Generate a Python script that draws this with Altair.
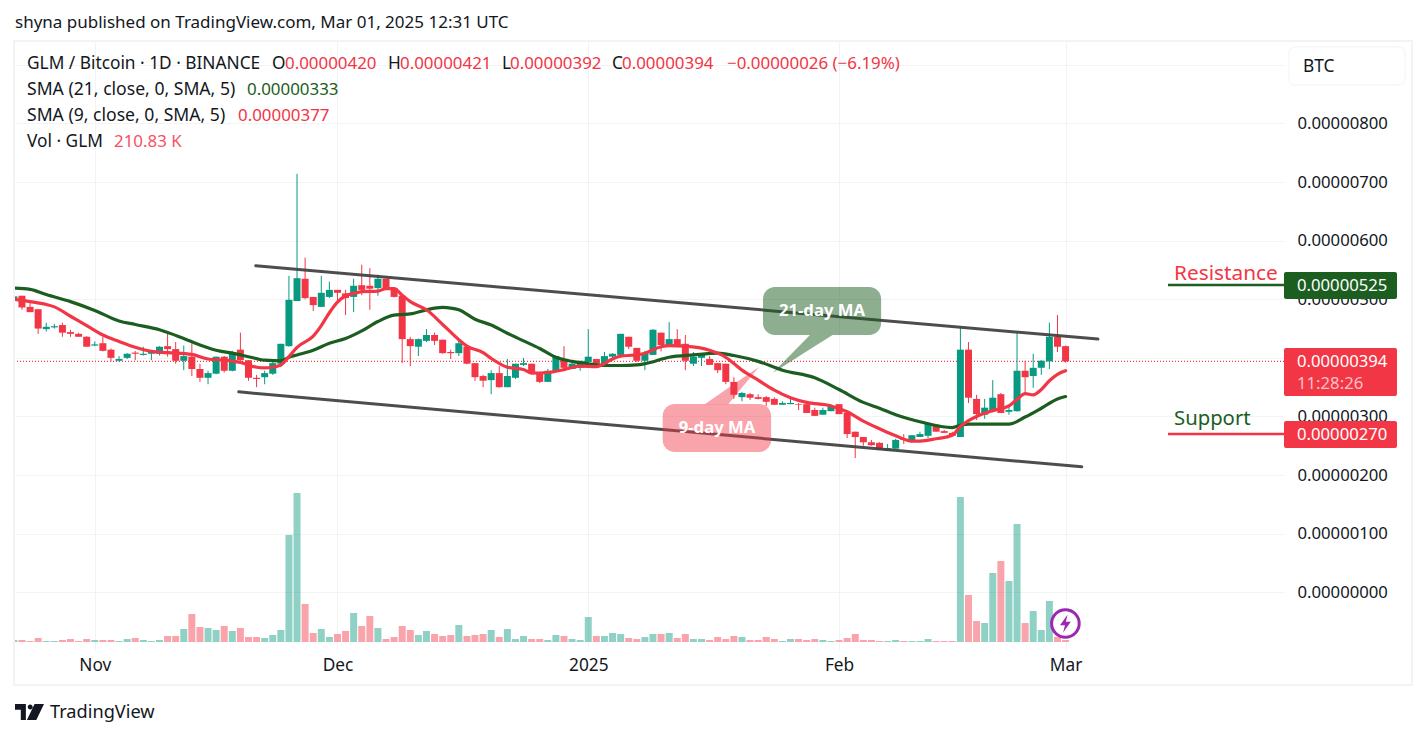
import altair as alt
import pandas as pd

# prices are in units of 0.00000001 BTC, volumes in thousands of GLM
START = "2024-10-22"
opens = [499,506,487,483,449,452,456,444,441,436,421,425,414,395,400,409,405,407,407,420,
 415,395,402,381,366,373,402,378,414,396,366,367,373,390,420,497,535,504,487,504,
 516,510,504,524,523,519,535,519,506,432,419,429,439,431,410,408,419,391,369,362,
 374,350,366,388,390,374,359,378,396,381,383,393,398,390,402,405,436,417,395,405,
 443,420,432,424,390,400,398,391,390,359,333,338,333,333,330,320,321,321,321,311,
 303,309,321,306,274,265,256,255,242,245,262,257,265,267,286,275,272,265,414,330,
 303,309,338,308,309,378,369,383,394,436,420]
highs = [505,506,496,483,460,458,460,448,443,437,428,436,416,403,408,412,419,411,420,443,
 427,421,425,390,378,402,403,412,443,396,371,378,395,424,540,714,571,504,540,530,
 516,516,535,559,553,542,535,519,506,436,433,449,443,431,414,431,420,391,371,379,
 386,398,390,400,390,376,381,403,420,395,395,449,398,410,408,441,436,417,412,449,
 443,461,449,439,410,407,403,391,390,367,342,340,338,335,333,326,332,323,321,315,
 315,321,321,308,274,265,260,256,253,262,270,268,274,289,287,277,274,454,427,337,
 330,362,340,320,443,395,407,396,460,473,421]
lows = [499,482,478,441,445,450,436,436,436,419,420,411,394,394,398,396,404,396,404,402,
 390,379,369,359,355,372,375,377,393,361,350,355,371,384,419,497,500,480,487,502,
 495,473,478,507,482,506,518,503,391,386,403,427,422,407,398,403,389,361,350,338,
 349,350,364,386,372,357,359,378,378,381,378,386,385,388,400,405,415,393,379,405,
 411,420,420,379,386,386,388,374,355,330,326,328,329,318,320,320,321,311,306,301,
 303,309,304,263,229,250,250,243,241,245,253,255,265,263,274,272,267,265,323,294,
 296,309,306,303,308,340,349,371,381,410,392]
closes = [505,486,478,450,453,454,443,441,436,419,423,412,400,398,407,407,407,411,419,415,
 395,403,381,366,374,402,378,410,396,366,364,374,391,424,499,536,502,490,511,516,
 511,502,523,516,518,535,519,504,432,420,432,439,429,408,408,425,390,367,361,374,
 350,369,390,391,373,359,378,403,383,390,395,402,390,403,407,441,419,395,408,448,
 422,432,422,395,402,405,388,379,359,337,340,332,330,325,320,323,323,320,306,301,
 311,318,304,270,265,256,251,243,246,260,260,268,270,287,274,272,267,414,332,304,
 315,332,306,311,378,367,383,395,436,419,394]
volumes = [210,210,105,420,105,105,210,315,105,315,210,210,210,105,315,420,210,105,210,630,
 630,1365,2940,1575,1470,1260,1680,1155,1470,525,525,420,735,1260,11235,15645,3990,945,1365,525,
 840,1155,3045,1680,2730,1470,315,525,1680,1260,735,1155,840,630,735,1785,630,735,840,1260,
 525,1365,315,630,315,315,210,735,630,315,210,2625,630,630,945,840,420,315,525,840,
 840,945,420,840,315,315,210,525,315,630,525,210,210,525,315,105,315,315,210,315,
 210,105,210,420,840,210,210,105,105,210,105,105,105,315,105,105,105,15225,4935,2205,
 1995,7245,8505,6405,12390,1995,3255,1260,4305,525,211]

sma21_days = [0,2,4,7,10,13,15,18,21,23,25,27,29,31,33,34,35,37,39,41,43,45,47,48,49,51,53,54,55,57,59,61,63,65,67,69,71,73,75,77,78,81,84,87,89,92,95,99,102,105,107,109,112,116,117,118,120,123,125,127,129,130]
sma21_vals = [519,517,508,496,481,463,457,448,433,422,413,408,402,396,395,401,405,413,425,433,446,462,473,474,475,482,486,485,482,466,456,442,429,416,401,394,390,387,387,388,390,401,405,408,404,394,379,366,346,324,314,303,291,281,285,287,287,287,299,314,330,334]
sma9_days = [0,2,4,5,7,9,11,13,15,17,19,22,24,26,28,30,31,32,33,34,35,37,38,39,40,41,42,43,45,46,47,48,49,51,53,55,56,58,59,61,63,64,66,68,70,72,74,75,77,78,80,81,83,86,88,90,92,94,96,98,101,103,105,107,109,111,112,114,116,117,118,119,121,123,124,125,126,127,128,129,130]
sma9_vals = [500,496,491,487,471,455,439,428,418,411,409,406,398,396,392,384,383,384,388,402,418,437,455,477,495,506,510,513,514,518,518,507,496,482,457,431,420,409,399,384,380,374,375,380,386,385,398,403,405,408,419,421,420,413,401,379,362,345,332,324,318,308,292,279,267,258,258,262,268,283,293,300,310,318,329,339,337,346,361,372,378]

upper_days, upper_vals = [29.9, 134], [557, 432]
lower_days, lower_vals = [27.8, 132], [342, 214]

x_ticks = ["2024-11-01", "2024-12-01", "2025-01-01", "2025-02-01", "2025-03-01"]
y_ticks = list(range(0, 1000, 100))

FONT = "Noto Sans"
INK = "#131722"
GREEN = "#089981"
RED = "#F23645"
DARK = "#1B5E20"
GRID = "#F2F3F5"
NUM = 16.9   # digits
TXT = 17.3   # letters

base = pd.Timestamp(START, tz="UTC")
def day(d):
    return (base + pd.Timedelta(days=d)).isoformat()
def ms(stamp):
    return int(pd.Timestamp(stamp, tz="UTC").value // 10**6)

candles = pd.DataFrame({"date": [day(i) for i in range(len(opens))],
                        "open": opens, "high": highs, "low": lows, "close": closes,
                        "volume": volumes})
candles["dir"] = ["up" if c >= o else "down" for o, c in zip(opens, closes)]
sma21 = pd.DataFrame({"date": [day(d) for d in sma21_days], "v": sma21_vals})
sma9 = pd.DataFrame({"date": [day(d) for d in sma9_days], "v": sma9_vals})
upper = pd.DataFrame({"date": [day(d) for d in upper_days], "v": upper_vals})
lower = pd.DataFrame({"date": [day(d) for d in lower_days], "v": lower_vals})

xscale = alt.Scale(type="utc", domain=[ms("2024-10-22T03:20:00"), ms("2025-03-28")], padding=0)
yscale = alt.Scale(domain=[-98.5, 940.7], zero=False, nice=False, padding=0)
vscale = alt.Scale(domain=[-840, 63105], zero=False, nice=False, padding=0)
cscale = alt.Scale(domain=["up", "down"], range=[GREEN, RED])

x_axis = alt.Axis(values=[ms(t) for t in x_ticks], title=None, grid=True, gridColor=GRID,
                  domain=False, ticks=False, labelFont=FONT, labelFontSize=TXT, labelColor=INK,
                  labelPadding=6, labelOverlap=False, labelFlush=False,
                  labelExpr="utcmonth(datum.value)==0 ? utcFormat(datum.value,'%Y') : utcFormat(datum.value,'%b')")
y_axis = alt.Axis(values=y_ticks, orient="right", title=None, grid=True, gridColor=GRID,
                  domain=False, ticks=False, labelFont=FONT, labelFontSize=16.7, labelColor=INK,
                  labelPadding=13, labelOverlap=False, labelFlush=False,
                  labelExpr="(datum.value>850 || datum.value==400) ? '' : format(datum.value/100000000,'.8f')")

X = alt.X("date:T", scale=xscale, axis=x_axis)
def Y(field, axis=None):
    return alt.Y(field, scale=yscale, axis=axis, stack=None)
dir_color = alt.Color("dir:N", scale=cscale, legend=None)

OX, OY = 15, 41
def px(x): return x - OX
def py(y): return y - OY

def label(text, x, y, color=INK, size=TXT, weight="normal", align="left"):
    return alt.Chart().mark_text(text=text, align=align, baseline="middle", font=FONT,
                                 fontSize=size, color=color, fontWeight=weight,
                                 ).encode(x=alt.value(px(x)), y=alt.value(py(y + 1)))
def box(x0, y0, x1, y1, **kw):
    return alt.Chart().mark_rect(**kw).encode(x=alt.value(px(x0)), x2=alt.value(px(x1)),
                                              y=alt.value(py(y0)), y2=alt.value(py(y1)))
def hline(x0, x1, y, color):
    return alt.Chart().mark_rule(color=color, strokeWidth=2.5).encode(
        x=alt.value(px(x0)), x2=alt.value(px(x1)), y=alt.value(py(y)))

vol = alt.Chart(candles).mark_bar(size=7, opacity=0.45, clip=True).encode(
    x=X,
    y=alt.Y("volume:Q", scale=vscale, axis=None, stack=None),
    color=dir_color)
last = alt.Chart().mark_rule(color=RED, strokeWidth=1.3, strokeDash=[1, 2]).encode(
    y=alt.Y(datum=394, scale=yscale, axis=y_axis))
wicks = alt.Chart(candles).mark_rule(strokeWidth=1, clip=True).encode(
    x=X, y=Y("low:Q"), y2="high:Q", color=dir_color)
bodies = alt.Chart(candles).mark_bar(size=7, clip=True).encode(
    x=X, y=Y("open:Q"), y2="close:Q", color=dir_color)
def line(df, color, width, opacity=1, interpolate="linear"):
    return alt.Chart(df).mark_line(color=color, strokeWidth=width, opacity=opacity, clip=True,
                                   strokeCap="round", interpolate=interpolate).encode(x=X, y=Y("v:Q"))

def callout(rect_days, rect_vals, tail_days, tail_top, tail_bot, color, opacity):
    r = alt.Chart(pd.DataFrame([{"a": day(rect_days[0]), "b": day(rect_days[1]),
                                 "t": rect_vals[0], "u": rect_vals[1]}])
                  ).mark_rect(color=color, opacity=opacity, cornerRadius=12).encode(
        x=alt.X("a:T", scale=xscale, axis=x_axis), x2="b:T", y=Y("t:Q"), y2="u:Q")
    t = alt.Chart(pd.DataFrame({"date": [day(d) for d in tail_days], "t": tail_top, "u": tail_bot})
                  ).mark_area(color=color, opacity=opacity, line=False).encode(
        x=X, y=Y("t:Q"), y2="u:Q")
    return [r, t]

ma21 = callout([92.6, 107.2], [521, 439], [93.8, 98.4, 101.2], [374, 439, 439], [374, 414.5, 439], DARK, 0.5)
ma9 = callout([80.2, 93.6], [321.3, 239.4], [85.4, 88.3, 92.1], [321, 321, 384.5], [321, 348.5, 384.5], RED, 0.45)

bolt_ring = alt.Chart().mark_point(shape="circle", size=760, fill="#FFFFFF", stroke="#9C27B0",
                                   strokeWidth=3, opacity=1).encode(
    x=alt.value(px(1065.4)), y=alt.value(py(623.5)))
bolt = alt.Chart().mark_point(shape="M0.25,-1L-0.6,0.2L-0.05,0.2L-0.25,1L0.6,-0.2L0.05,-0.2Z", size=320,
                              fill="#9C27B0", stroke="#9C27B0", strokeWidth=0, opacity=1).encode(
    x=alt.value(px(1065.4)), y=alt.value(py(623.5)))
logo = alt.Chart().mark_point(
    shape="M-1,-.55H-.25V.55H-.6V-.15H-1Z M.35,-.55H1L.47,.55H-.18Z M-.12,-.35a.17,.17 0 1,0 .34,0a.17,.17 0 1,0 -.34,0Z",
    size=841, fill=INK, strokeWidth=0, opacity=1).encode(x=alt.value(px(29.5)), y=alt.value(py(712)))

frame = box(14, 41, 1412, 685, fill="transparent", stroke=GRID, strokeWidth=2)

texts = [
    label("shyna published on TradingView.com, Mar 01, 2025 12:31 UTC", 15, 22, size=17),
    label("GLM / Bitcoin · 1D · BINANCE", 27, 63),
    label("O", 272, 63), label("0.00000420", 285, 63, RED, NUM),
    label("H", 388, 63), label("0.00000421", 400, 63, RED, NUM),
    label("L", 502, 63), label("0.00000392", 510, 63, RED, NUM),
    label("C", 612, 63), label("0.00000394", 622, 63, RED, NUM),
    label("−0.00000026 (−6.19%)", 727, 63, RED, NUM),
    label("SMA (21, close, 0, SMA, 5)", 27, 89, size=17.6), label("0.00000333", 247, 89, DARK, NUM),
    label("SMA (9, close, 0, SMA, 5)", 27, 115, size=17.6), label("0.00000377", 238, 115, RED, NUM),
    label("Vol · GLM", 27, 141), label("210.83 K", 114, 141, "#F7525F", NUM),
    label("21-day MA", 822, 310, "#FFFFFF", 16.7, "bold", "center"),
    label("9-day MA", 717, 427, "#FFFFFF", 16.7, "bold", "center"),
    label("Resistance", 1174, 273, RED, 20.8),
    label("Support", 1174, 418, DARK, 20.3),
    label("TradingView", 50, 712, INK, 18.2),
]

tags = [
    box(1289, 47, 1405, 85, fill="#FFFFFF", stroke="#F0F3FA", cornerRadius=6),
    label("BTC", 1303, 66),
    hline(1168, 1284, 285, DARK), hline(1168, 1284, 434, RED),
    box(1284, 272, 1397, 299, fill=DARK, cornerRadius=2),
    label("0.00000525", 1297, 285, "#FFFFFF", 16.7),
    box(1284, 348, 1397, 396, fill=RED, cornerRadius=2),
    label("0.00000394", 1297, 361, "#FFFFFF", 16.7),
    label("11:28:26", 1297, 383, "#FBC1C7", 16.7),
    box(1284, 421, 1397, 448, fill=RED, cornerRadius=2),
    label("0.00000270", 1297, 434, "#FFFFFF", 16.7),
]

chart = alt.layer(
    vol, last, wicks, bodies,
    line(sma21, DARK, 3.2, interpolate="monotone"), line(sma9, RED, 3.2, interpolate="monotone"),
    line(upper, "#434343", 3, 0.95), line(lower, "#434343", 3, 0.95),
    *ma21, *ma9, bolt_ring, bolt, logo, frame, *tags, *texts,
).resolve_scale(y="independent").properties(
    width=1269, height=609, autosize="none",
    padding={"left": 7, "top": 33, "right": 129, "bottom": 78},
).configure_view(stroke=None)

chart.save("out.html", embed_options={"renderer": "svg", "actions": False})
